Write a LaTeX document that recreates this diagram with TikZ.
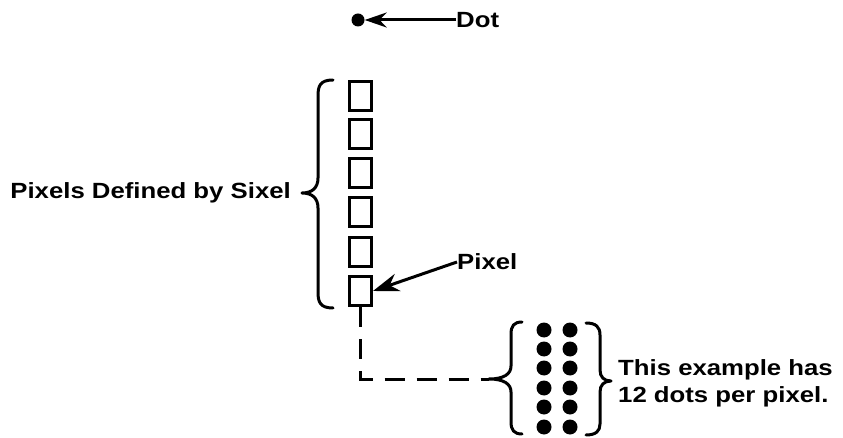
\documentclass[tikz,border=0pt]{standalone}
\usepackage{fontspec}
\setmainfont{Liberation Sans}[FakeStretch=1.17]
\usetikzlibrary{arrows.meta}
\begin{document}
\begin{tikzpicture}[x=1pt,y=-1pt,
  lbl/.style={font=\bfseries\fontsize{22}{25}\selectfont, inner sep=0pt},
  pix/.style={draw, line width=3pt, minimum width=22pt, minimum height=29pt, inner sep=0pt},
  bigdot/.style={circle, fill, minimum size=15pt, inner sep=0pt},
  brc/.style={line width=3pt, line cap=round, line join=round},
  thick line/.style={line width=3pt}
]
\useasboundingbox (0,0) rectangle (843,438);
% top dot
\node[bigdot, minimum size=13pt] (dot) at (358,20) {};
\node[lbl, anchor=west] (dotlbl) at (456,20) {Dot};
\draw[thick line, -{Stealth[length=22pt, width=15pt]}] (dotlbl.west) -- (dot.east);
% pixel column
\foreach \i/\y in {1/96,2/134,3/173,4/212,5/252,6/291} {
  \node[pix] (p\i) at (360.5,\y) {};
}
% big left brace
\draw[brc] (333,80) .. controls (320,80) and (318,86) .. (318,96) -- (318,178)
  .. controls (318,188) and (312,193) .. (302,193)
  .. controls (312,193) and (318,198) .. (318,208) -- (318,292)
  .. controls (318,302) and (320,308) .. (333,308);
\node[lbl, anchor=east] (pdef) at (291,193) {Pixels Defined by Sixel};
% pixel label
\node[lbl, anchor=west] (pixlbl) at (457,262) {Pixel};
\draw[thick line, -{Stealth[length=26pt, width=18pt]}] (pixlbl.west) -- (p6.east);
% dashed connector
\coordinate (tip2) at (489,379);
\draw[line width=3pt, dash pattern=on 20pt off 12pt] (p6.south) |- (tip2);
% dot group braces
\draw[brc] (522,322) .. controls (514,322) and (511,326) .. (511,334) -- (511,366)
  .. controls (511,374) and (504,379) .. (tip2)
  .. controls (504,379) and (511,384) .. (511,392) -- (511,422)
  .. controls (511,430) and (514,434) .. (522,434);
\draw[brc] (586,323) .. controls (596,323) and (600,327) .. (600,335) -- (600,370)
  .. controls (600,377) and (604,381) .. (611,381)
  .. controls (604,381) and (600,385) .. (600,392) -- (600,424)
  .. controls (600,431) and (596,435) .. (586,435);
\foreach \r/\y in {1/330,2/349,3/368,4/388,5/407,6/427} {
  \node[bigdot] (a\r) at (544,\y) {};
  \node[bigdot] (b\r) at (570,\y) {};
}
\node[lbl, anchor=west] (ex1) at (618,370) {This example has};
\node[lbl, anchor=west] (ex2) at (618,397) {12 dots per pixel.};
\end{tikzpicture}
\end{document}
